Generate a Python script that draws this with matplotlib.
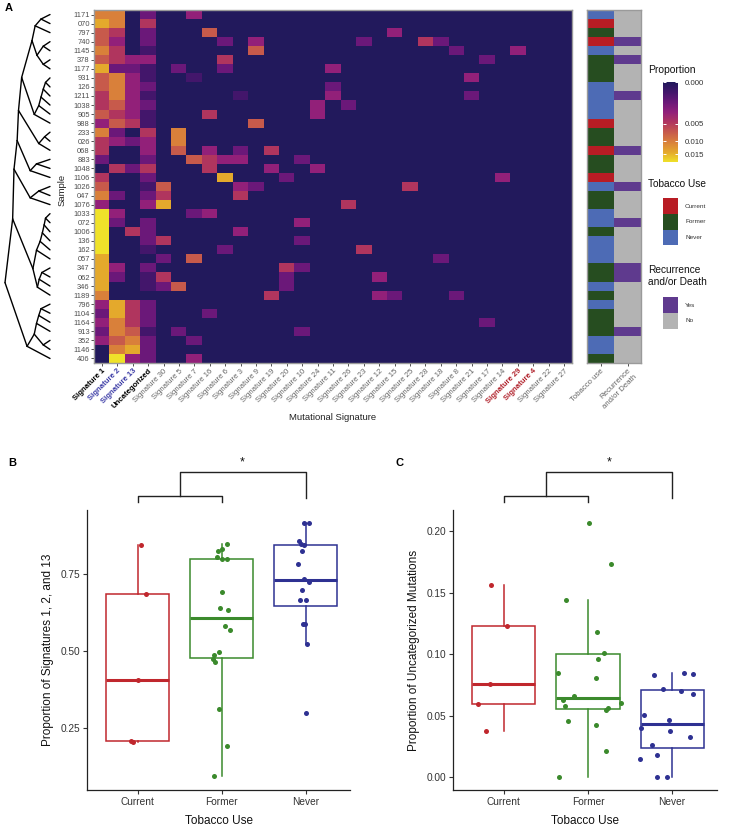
import numpy as np
import matplotlib
matplotlib.use('Agg')
import matplotlib.pyplot as plt
import matplotlib.transforms as mtransforms
from matplotlib.colors import LinearSegmentedColormap, PowerNorm, to_rgb
from matplotlib.patches import Rectangle

plt.rcParams['font.family'] = ['Liberation Sans', 'DejaVu Sans']

# ---------------- data ----------------
samples = ['1171', '070', '797', '740', '1145', '378', '1177', '931', '126', '1211',
           '1038', '905', '988', '233', '026', '068', '883', '1048', '1106', '1026',
           '047', '1076', '1033', '072', '1006', '136', '162', '057', '347', '062',
           '346', '1189', '796', '1104', '1164', '913', '352', '1146', '406']

signatures = ['Signature 1', 'Signature 2', 'Signature 13', 'Uncategorized', 'Signature 30',
              'Signature 5', 'Signature 7', 'Signature 16', 'Signature 6', 'Signature 3',
              'Signature 9', 'Signature 19', 'Signature 20', 'Signature 10', 'Signature 24',
              'Signature 11', 'Signature 26', 'Signature 23', 'Signature 12', 'Signature 15',
              'Signature 25', 'Signature 28', 'Signature 18', 'Signature 8', 'Signature 21',
              'Signature 17', 'Signature 14', 'Signature 29', 'Signature 4', 'Signature 22',
              'Signature 27']
sig_black = ['Signature 1', 'Uncategorized']
sig_blue = ['Signature 2', 'Signature 13']
sig_red = ['Signature 29', 'Signature 4']

# colour level of each cell (0 = background ... 8 = yellow), one string per sample
levels = [
    "66020 03000 00000 00000 00000 00000 0",
    "76040 00000 00000 00000 00000 00000 0",
    "54020 00500 00000 00003 00000 00000 0",
    "53020 00020 30000 00200 04200 00000 0",
    "64010 00000 50000 00000 00020 00300 0",
    "54330 00040 00000 00000 00000 20000 0",
    "72210 20020 00000 30000 00000 00000 0",
    "56310 01000 00000 00000 00003 00000 0",
    "56320 00000 00000 20000 00000 00000 0",
    "46310 00001 00000 30000 00002 00000 0",
    "45320 00000 00003 02000 00000 00000 0",
    "54310 00400 00003 00000 00000 00000 0",
    "35410 00000 50000 00000 00000 00000 0",
    "62040 60000 00000 00000 00000 00000 0",
    "43230 60000 00000 00000 00000 00000 0",
    "40030 50302 04000 00000 00000 00000 0",
    "20020 05433 00020 00000 00000 00000 0",
    "04240 00400 03003 00000 00000 00000 0",
    "40020 00070 00200 00000 00000 03000 0",
    "50015 00003 20000 00000 40000 00000 0",
    "62024 00004 00000 00000 00000 00000 0",
    "30037 00000 00000 04000 00000 00000 0",
    "83000 02300 00000 00000 00000 00000 0",
    "82020 00000 00030 00000 00000 00000 0",
    "80420 00003 00000 00000 00000 00000 0",
    "80024 00000 00020 00000 00000 00000 0",
    "80010 00020 00000 00400 00000 00000 0",
    "70002 05000 00000 00000 00200 00000 0",
    "73020 00000 00420 00000 00000 00000 0",
    "72014 00000 00200 00030 00000 00000 0",
    "70012 50000 00200 00000 00000 00000 0",
    "60000 00000 04000 00032 00020 00000 0",
    "37420 00000 00000 00000 00000 00000 0",
    "27420 00200 00000 00000 00000 00000 0",
    "36420 00000 00000 00000 00000 20000 0",
    "26510 20000 00020 00000 00000 00000 0",
    "35620 02000 00000 00000 00000 00000 0",
    "06720 00000 00000 00000 00000 00000 0",
    "08320 03000 00000 00000 00000 00000 0",
]

tobacco_code = "NCFCNFFFNNNNCFFCFFCNFFNNFNNNFFNFNFFFNNF"
recur_code = "NNNYNYNNNYNNNNNYNNNYNNNYNNNNYYNNNNNYNNN"

# dendrogram: (height, child, child, ...), leaves are sample ids
dendro_tree = (1.0,
    (0.83,
        (0.80,
            (0.73,
                (0.70,
                    (0.63,
                        (0.40, (0.33, (0.20, '1171', '070'), '797'),
                               (0.29, (0.15, '740', '1145'), (0.15, '378', '1177'))),
                        (0.35, (0.25, (0.20, (0.15, (0.10, '931', '126'), '1211'), '1038'), '905'), '988')),
                    (0.25, (0.12, '233', '026'), '068')),
                (0.44, (0.30, '883', '1048'), '1106')),
            (0.44, (0.25, '1026', '047'), '1076')),
        (0.38, (0.30, (0.22, (0.17, (0.13, (0.10, '1033', '072'), '1006'), '136'), '162'), '057'),
               (0.28, (0.24, (0.18, '347', '062'), '346'), '1189'))),
    (0.51, (0.35, (0.30, (0.25, (0.20, '796', '1104'), '1164'), '913'), (0.15, '352', '1146')), '406'))

groups = ['Current', 'Former', 'Never']

sig_prop = {
    'Current': [0.844, 0.686, 0.406, 0.210, 0.207],
    'Former': [0.848, 0.832, 0.825, 0.805, 0.798, 0.798, 0.693, 0.640, 0.635, 0.583,
               0.570, 0.498, 0.489, 0.475, 0.464, 0.313, 0.193, 0.094],
    'Never': [0.917, 0.917, 0.858, 0.848, 0.845, 0.826, 0.784, 0.734, 0.726, 0.697,
              0.667, 0.667, 0.587, 0.587, 0.524, 0.300],
}
sig_jitter = {
    'Current': [0.04, 0.095, 0.008, -0.079, -0.052],
    'Former': [0.06, 0.008, -0.04, -0.052, 0.0, 0.06, 0.008, -0.02, 0.075, 0.044,
               0.1, -0.036, -0.087, -0.1, -0.08, -0.032, 0.06, -0.095],
    'Never': [-0.024, 0.04, -0.083, -0.052, -0.024, -0.04, -0.091, -0.02, 0.04, -0.036,
              -0.067, 0.0, -0.028, -0.004, 0.02, 0.008],
}

uncat_prop = {
    'Current': [0.156, 0.1228, 0.0755, 0.0595, 0.0378],
    'Former': [0.2067, 0.1729, 0.1439, 0.1177, 0.1011, 0.0963, 0.0844, 0.0809, 0.0662,
               0.0627, 0.0603, 0.0576, 0.0565, 0.0546, 0.0460, 0.0422, 0.0213, 0.0],
    'Never': [0.0849, 0.0836, 0.083, 0.0719, 0.0703, 0.0679, 0.0506, 0.0463, 0.0403,
              0.0378, 0.033, 0.0262, 0.0181, 0.0151, 0.0, 0.0],
}
uncat_jitter = {
    'Current': [-0.15, 0.036, -0.166, -0.31, -0.21],
    'Former': [0.016, 0.273, -0.257, 0.103, 0.19, 0.115, -0.356, 0.1, -0.17, -0.3,
               0.39, -0.277, 0.237, 0.217, -0.241, 0.1, 0.217, -0.34],
    'Never': [0.142, 0.249, -0.221, -0.107, 0.107, 0.253, -0.332, -0.032, -0.368, -0.028,
              0.217, -0.237, -0.174, -0.387, -0.182, -0.055],
}

# ---------------- styles ----------------
W, H = 740, 826
VMAX = 0.0185
heat_cmap = LinearSegmentedColormap.from_list('heat', [
    '#22195c', '#43166b', '#6b1879', '#92207a', '#b0355f',
    '#c75a4c', '#d9803b', '#e4a82d', '#efe22a'])
tob_colors = {'C': '#b81c24', 'F': '#264d20', 'N': '#4d6bb5'}
rec_colors = {'Y': '#5f3a8e', 'N': '#b3b3b3'}
box_colors = {'Current': '#c0272d', 'Former': '#3b8a2c', 'Never': '#2e3192'}
txt = '#333333'

fig = plt.figure(figsize=(W / 100, H / 100), dpi=100)


def px_axes(x0, y0, x1, y1):
    return fig.add_axes([x0 / W, 1 - y1 / H, (x1 - x0) / W, (y1 - y0) / H])


# ---------------- panel A: heatmap ----------------
lev = np.array([[int(c) for c in row.replace(' ', '')] for row in levels], dtype=float)
vals = VMAX * (lev / 8.0) ** 2
norm = PowerNorm(0.5, vmin=0, vmax=VMAX)

ax = px_axes(94.3, 10, 571.7, 363)
im = ax.imshow(vals, cmap=heat_cmap, norm=norm, aspect='auto', interpolation='nearest')
ax.set_yticks(range(len(samples)))
ax.set_yticklabels(samples, fontsize=5.4, color='#4d4d4d')
ax.set_xticks(range(len(signatures)))
ax.set_xticklabels(signatures, rotation=45, ha='right', va='top', rotation_mode='anchor', fontsize=5.6)
for lab in ax.get_xticklabels():
    t = lab.get_text()
    if t in sig_black:
        lab.set_color('black'); lab.set_fontweight('bold')
    elif t in sig_blue:
        lab.set_color('#3c3ca6'); lab.set_fontweight('bold')
    elif t in sig_red:
        lab.set_color('#b0202a'); lab.set_fontweight('bold')
    else:
        lab.set_color('#666666')
ax.tick_params(length=2, width=0.6, color='#333333', pad=1.2)
for s in ax.spines.values():
    s.set_color('#9a9a9a'); s.set_linewidth(1.0)
ax.set_xlabel('Mutational Signature', fontsize=6.8, color='#222222', labelpad=2)
fig.text(62 / W, 1 - 190 / H, 'Sample', rotation=90, ha='center', va='center', fontsize=6.8, color='#222222')
fig.text(5 / W, 1 - 8 / H, 'A', fontsize=8, fontweight='bold', va='center')

# annotation strip
ax2 = px_axes(587, 10, 641, 363)
anno = np.array([[to_rgb(tob_colors[t]), to_rgb(rec_colors[r])] for t, r in zip(tobacco_code, recur_code)])
ax2.imshow(anno, aspect='auto', interpolation='nearest')
ax2.set_yticks([])
ax2.set_xticks([0, 1])
ax2.set_xticklabels(['Tobacco use', 'Recurrence\nand/or Death'], rotation=45, ha='right', va='top',
                    rotation_mode='anchor', fontsize=5.6, color='#666666')
ax2.tick_params(length=2, width=0.6, color='#333333', pad=1.2)
for s in ax2.spines.values():
    s.set_color('#9a9a9a'); s.set_linewidth(1.0)

# dendrogram
axd = px_axes(5, 10, 50, 363)
axd.set_xlim(1.0, 0.0)
axd.set_ylim(len(samples) - 0.5, -0.5)
axd.axis('off')
leaf_pos = {s: i for i, s in enumerate(samples)}


def draw_dendro(node):
    if isinstance(node, str):
        return 0.0, leaf_pos[node]
    h, *kids = node
    coords = [draw_dendro(k) for k in kids]
    y = (coords[0][1] + coords[-1][1]) / 2
    for hc, yc in coords:
        axd.plot([h, hc], [y, yc], color='black', lw=1.0, clip_on=False, solid_capstyle='round')
    return h, y


draw_dendro(dendro_tree)

# legends
leg = px_axes(640, 55, 740, 340)
leg.set_xlim(640, 740); leg.set_ylim(340, 55); leg.axis('off')
leg.text(648, 70, 'Proportion', fontsize=7.5, va='center', color='#111111')
cax = px_axes(662.5, 82.3, 678, 162.3)
cb = fig.colorbar(im, cax=cax)
cb.outline.set_visible(False)
cax.invert_yaxis()
cb.set_ticks([0, 0.005, 0.010, 0.015])
cb.set_ticklabels(['0.000', '0.005', '0.010', '0.015'])
cax.tick_params(axis='y', direction='in', length=2.5, width=0.7, color='white', left=True, right=True,
                labelleft=False, labelright=True, labelsize=5.7, labelcolor=txt, pad=5)

leg.text(648, 184, 'Tobacco Use', fontsize=7.3, va='center', color='#111111')
for i, (code, name) in enumerate(zip(['C', 'F', 'N'], groups)):
    y0 = 198 + i * 15.8
    leg.add_patch(Rectangle((662.5, y0), 15.5, 15.8, facecolor=tob_colors[code], edgecolor='none'))
    leg.text(685, y0 + 8, name, fontsize=4.6, va='center', color=txt)

leg.text(648, 276, 'Recurrence\nand/or Death', fontsize=7.3, va='center', color='#111111', linespacing=1.15)
for i, (code, name) in enumerate(zip(['Y', 'N'], ['Yes', 'No'])):
    y0 = 297 + i * 15.8
    leg.add_patch(Rectangle((662.5, y0), 15.5, 15.8, facecolor=rec_colors[code], edgecolor='none'))
    leg.text(685, y0 + 8, name, fontsize=4.6, va='center', color=txt)


# ---------------- panels B and C: boxplots ----------------
def box_panel(axb, data, jitter, ylabel):
    bp = axb.boxplot([data[g] for g in groups], positions=[1, 2, 3], widths=0.75,
                     showfliers=False, showcaps=False, patch_artist=True, whis=1.5)
    for i, g in enumerate(groups):
        c = box_colors[g]
        bp['boxes'][i].set(facecolor='white', edgecolor=c, linewidth=1.1)
        bp['medians'][i].set(color=c, linewidth=2.2)
        for w in bp['whiskers'][2 * i:2 * i + 2]:
            w.set(color=c, linewidth=1.1)
        axb.scatter(i + 1 + np.array(jitter[g]), data[g], s=13, color=c, zorder=3, linewidths=0)
    axb.set_xlim(0.4, 3.53)
    axb.set_xticks([1, 2, 3])
    axb.set_xticklabels(groups)
    for side in ['top', 'right']:
        axb.spines[side].set_visible(False)
    for side in ['left', 'bottom']:
        axb.spines[side].set_linewidth(0.9)
        axb.spines[side].set_color('#222222')
    axb.tick_params(labelsize=7.3, labelcolor=txt, length=3, width=0.8, color='#333333', pad=2)
    axb.set_xlabel('Tobacco Use', fontsize=8.5, color='#111111', labelpad=6)
    axb.set_ylabel(ylabel, fontsize=8.5, color='#111111', labelpad=5)
    # significance brackets
    tr = mtransforms.blended_transform_factory(axb.transData, axb.transAxes)
    kw = dict(transform=tr, clip_on=False, color='#222222', lw=1.0)
    axb.plot([1, 1, 2, 2], [1.029, 1.051, 1.051, 1.029], **kw)
    axb.plot([1.5, 1.5, 3, 3], [1.051, 1.136, 1.136, 1.043], **kw)
    axb.text(2.25, 1.17, '*', transform=tr, ha='center', va='center', fontsize=9, color='#111111')


axB = px_axes(87.3, 510, 350, 790)
box_panel(axB, sig_prop, sig_jitter, 'Proportion of Signatures 1, 2, and 13')
axB.set_ylim(0.05, 0.958)
axB.set_yticks([0.25, 0.50, 0.75])
axB.set_yticklabels(['0.25', '0.50', '0.75'])

axC = px_axes(453.3, 510, 716.7, 790)
box_panel(axC, uncat_prop, uncat_jitter, 'Proportion of Uncategorized Mutations')
axC.set_ylim(-0.0103, 0.217)
axC.set_yticks([0, 0.05, 0.10, 0.15, 0.20])
axC.set_yticklabels(['0.00', '0.05', '0.10', '0.15', '0.20'])

fig.text(8 / W, 1 - 463 / H, 'B', fontsize=8, fontweight='bold', va='center')
fig.text(396 / W, 1 - 463 / H, 'C', fontsize=8, fontweight='bold', va='center')

fig.savefig('out.png', dpi=100, facecolor='white')
